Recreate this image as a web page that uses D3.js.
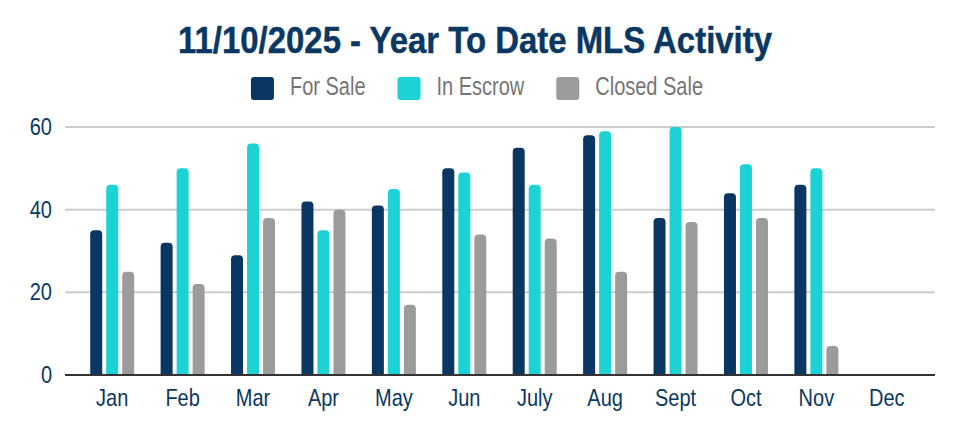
<!DOCTYPE html>
<html>
<head>
<meta charset="utf-8">
<title>Year To Date MLS Activity</title>
<script src="https://d3js.org/d3.v7.min.js"></script>
<style>
  body { margin: 0; background: #fff; }
  svg { display: block; font-family: "Liberation Sans", Arial, sans-serif; }
</style>
</head>
<body>
<svg id="chart" width="956" height="432"></svg>
<script>
const months = ["Jan", "Feb", "Mar", "Apr", "May", "Jun", "July", "Aug", "Sept", "Oct", "Nov", "Dec"];
const seriesNames = ["For Sale", "In Escrow", "Closed Sale"];
const forSale =    [35, 32, 29, 42, 41, 50, 55, 58, 38, 44, 46, null];
const inEscrow =   [46, 50, 56, 35, 45, 49, 46, 59, 60, 51, 50, null];
const closedSale = [25, 22, 38, 40, 17, 34, 33, 25, 37, 38, 7, null];
const yTicks = [0, 20, 40, 60];

const colors = ["#0a3761", "#1bd3d4", "#9b9b9b"];
const navy = "#0b3862";
const stretch = 1.22; // text in the picture is drawn taller than wide

const plot = { left: 65, right: 935, top: 127, bottom: 375 };

const svg = d3.select("#chart");

// title
svg.append("text")
  .attr("transform", `translate(475,53) scale(1,1.17)`)
  .attr("text-anchor", "middle")
  .attr("font-size", 32)
  .attr("font-weight", "bold")
  .attr("fill", navy)
  .attr("stroke", navy)
  .attr("stroke-width", 0.4)
  .attr("textLength", 594)
  .attr("lengthAdjust", "spacingAndGlyphs")
  .text("11/10/2025 - Year To Date MLS Activity");

// scales
const x0 = d3.scaleBand().domain(months).range([77, 922]);
const x1 = d3.scaleBand().domain(seriesNames).range([x0.bandwidth() / 2 - 22, x0.bandwidth() / 2 + 22]).paddingInner(0.25);
const y = d3.scaleLinear().domain([0, 60]).range([plot.bottom, plot.top]);

// grid lines
svg.append("g")
  .selectAll("line")
  .data(yTicks.filter(d => d > 0))
  .join("line")
  .attr("x1", plot.left).attr("x2", plot.right)
  .attr("y1", d => y(d)).attr("y2", d => y(d))
  .attr("stroke", "#cccccc").attr("stroke-width", 2);

// y axis labels
const yAxis = svg.append("g")
  .attr("transform", `translate(${plot.left},0)`)
  .call(d3.axisLeft(y).tickValues(yTicks).tickSize(0).tickPadding(13));
yAxis.select(".domain").remove();
yAxis.selectAll("text")
  .attr("font-size", 20)
  .attr("font-family", "Liberation Sans, Arial, sans-serif")
  .attr("fill", navy)
  .attr("dy", null)
  .attr("y", 0)
  .attr("transform", `translate(0,7.5) scale(1,${stretch})`);

// bars
const series = [forSale, inEscrow, closedSale];
const rows = [];
months.forEach((m, i) => {
  seriesNames.forEach((s, j) => {
    if (series[j][i] != null) rows.push({ month: m, name: s, value: series[j][i], color: colors[j] });
  });
});

function topRounded(x, yTop, w, h, r) {
  r = Math.min(r, w / 2, h);
  return `M${x},${yTop + h}V${yTop + r}Q${x},${yTop} ${x + r},${yTop}H${x + w - r}Q${x + w},${yTop} ${x + w},${yTop + r}V${yTop + h}Z`;
}

svg.append("g")
  .selectAll("path")
  .data(rows)
  .join("path")
  .attr("fill", d => d.color)
  .attr("d", d => {
    const bx = x0(d.month) + x1(d.name);
    const yt = y(d.value);
    return topRounded(bx, yt, x1.bandwidth(), plot.bottom - yt, 4);
  });

// baseline
svg.append("line")
  .attr("x1", plot.left).attr("x2", plot.right)
  .attr("y1", plot.bottom).attr("y2", plot.bottom)
  .attr("stroke", "#333333").attr("stroke-width", 2);

// x axis labels
const xAxis = svg.append("g")
  .attr("transform", `translate(0,${plot.bottom})`)
  .call(d3.axisBottom(x0).tickSize(0));
xAxis.select(".domain").remove();
xAxis.selectAll("text")
  .attr("font-size", 20)
  .attr("font-family", "Liberation Sans, Arial, sans-serif")
  .attr("fill", navy)
  .attr("dy", null)
  .attr("y", 0)
  .attr("transform", `translate(0,31) scale(1,${stretch})`);

// legend
const legend = svg.append("g");
const gap = 32;
let lx = 0;
seriesNames.forEach((s, j) => {
  const g = legend.append("g").attr("transform", `translate(${lx},0)`);
  g.append("rect").attr("x", 0).attr("y", 77).attr("width", 23).attr("height", 23).attr("rx", 3).attr("fill", colors[j]);
  const t = g.append("text")
    .attr("transform", `translate(39,95) scale(1,1.25)`)
    .attr("font-size", 20)
    .attr("fill", "#757575")
    .text(s);
  lx += 39 + t.node().getComputedTextLength() + gap;
});
const legendW = lx - gap;
legend.attr("transform", `translate(${477 - legendW / 2},0)`);
</script>
</body>
</html>
